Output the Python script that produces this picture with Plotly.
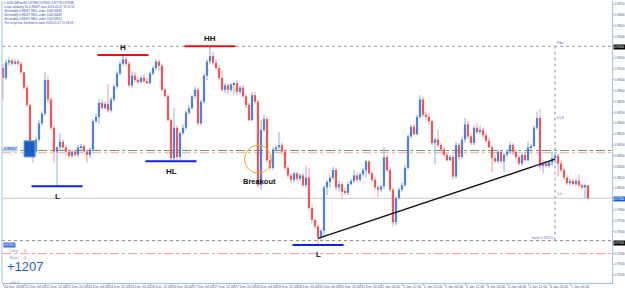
import plotly.graph_objects as go

PIP = 0.0001

# USDCHF.m H1 candles, prices in pips (x 0.0001)
OPEN = [9911, 9902, 9916, 9918, 9915, 9917, 9915, 9907, 9893, 9877,
        9840, 9834, 9845, 9860, 9869, 9900, 9882, 9856, 9834, 9838,
        9843, 9838, 9834, 9830, 9834, 9831, 9838, 9839, 9834, 9831,
        9836, 9862, 9866, 9879, 9874, 9878, 9872, 9882, 9894, 9906,
        9915, 9919, 9915, 9895, 9904, 9900, 9898, 9902, 9899, 9897,
        9906, 9911, 9917, 9913, 9891, 9885, 9863, 9828, 9856, 9829,
        9851, 9856, 9870, 9874, 9885, 9891, 9860, 9880, 9904, 9917,
        9922, 9916, 9911, 9902, 9891, 9895, 9891, 9896, 9897, 9889,
        9893, 9885, 9877, 9863, 9886, 9880, 9803, 9854, 9864, 9826,
        9819, 9836, 9838, 9840, 9834, 9819, 9812, 9808, 9814, 9809,
        9812, 9803, 9810, 9782, 9771, 9765, 9755, 9761, 9801, 9806,
        9810, 9817, 9801, 9804, 9797, 9796, 9804, 9807, 9812, 9808,
        9813, 9817, 9825, 9814, 9808, 9801, 9799, 9802, 9829, 9817,
        9799, 9769, 9791, 9799, 9803, 9819, 9848, 9857, 9850, 9866,
        9882, 9868, 9866, 9862, 9842, 9845, 9840, 9836, 9831, 9826,
        9829, 9811, 9840, 9829, 9845, 9859, 9848, 9842, 9856, 9852,
        9854, 9849, 9844, 9838, 9828, 9825, 9834, 9825, 9831, 9834,
        9840, 9834, 9829, 9823, 9831, 9826, 9838, 9839, 9856, 9865,
        9821, 9823, 9821, 9824, 9828, 9830, 9823, 9817, 9810, 9805,
        9807, 9804, 9807, 9803, 9801, 9803]
HIGH = [9915, 9919, 9921, 9920, 9919, 9919, 9917, 9908, 9895, 9878,
        9844, 9848, 9863, 9871, 9907, 9904, 9884, 9858, 9839, 9851,
        9845, 9840, 9836, 9836, 9836, 9840, 9841, 9840, 9836, 9838,
        9864, 9869, 9882, 9882, 9880, 9896, 9884, 9896, 9908, 9917,
        9923, 9921, 9917, 9908, 9907, 9903, 9904, 9905, 9902, 9908,
        9913, 9919, 9919, 9915, 9893, 9887, 9865, 9874, 9858, 9853,
        9859, 9872, 9877, 9886, 9894, 9893, 9882, 9906, 9919, 9931,
        9926, 9919, 9914, 9909, 9897, 9897, 9897, 9898, 9900, 9895,
        9895, 9887, 9879, 9889, 9889, 9882, 9863, 9868, 9866, 9831,
        9838, 9840, 9852, 9842, 9836, 9821, 9814, 9815, 9815, 9814,
        9814, 9821, 9819, 9785, 9773, 9767, 9763, 9803, 9808, 9812,
        9820, 9819, 9807, 9806, 9801, 9806, 9809, 9817, 9815, 9815,
        9819, 9826, 9826, 9816, 9811, 9803, 9803, 9838, 9831, 9820,
        9801, 9793, 9801, 9806, 9822, 9850, 9859, 9859, 9868, 9886,
        9884, 9871, 9870, 9863, 9847, 9854, 9842, 9838, 9833, 9831,
        9831, 9843, 9842, 9848, 9865, 9862, 9851, 9858, 9860, 9858,
        9856, 9852, 9847, 9840, 9831, 9836, 9836, 9833, 9836, 9843,
        9842, 9836, 9831, 9833, 9834, 9843, 9841, 9858, 9871, 9873,
        9826, 9825, 9826, 9834, 9832, 9832, 9826, 9819, 9812, 9809,
        9809, 9809, 9813, 9804, 9804, 9803]
LOW = [9882, 9900, 9913, 9913, 9914, 9913, 9905, 9891, 9875, 9838,
       9824, 9831, 9843, 9858, 9867, 9879, 9854, 9824, 9802, 9835,
       9836, 9830, 9828, 9828, 9829, 9829, 9834, 9832, 9824, 9828,
       9834, 9860, 9860, 9873, 9873, 9870, 9870, 9880, 9892, 9904,
       9913, 9913, 9893, 9893, 9898, 9896, 9897, 9897, 9896, 9896,
       9904, 9909, 9909, 9889, 9884, 9862, 9825, 9826, 9826, 9826,
       9849, 9854, 9868, 9873, 9883, 9858, 9858, 9878, 9900, 9915,
       9914, 9909, 9900, 9889, 9888, 9887, 9889, 9887, 9886, 9887,
       9884, 9874, 9862, 9862, 9878, 9801, 9799, 9852, 9824, 9817,
       9817, 9834, 9836, 9831, 9817, 9810, 9805, 9806, 9807, 9807,
       9801, 9801, 9779, 9768, 9763, 9748, 9752, 9755, 9794, 9801,
       9808, 9799, 9797, 9790, 9794, 9794, 9803, 9805, 9806, 9806,
       9811, 9810, 9813, 9806, 9799, 9792, 9797, 9799, 9815, 9797,
       9765, 9766, 9790, 9797, 9802, 9817, 9846, 9849, 9849, 9864,
       9866, 9863, 9859, 9840, 9822, 9838, 9834, 9829, 9825, 9825,
       9808, 9809, 9826, 9827, 9842, 9846, 9840, 9840, 9850, 9850,
       9847, 9842, 9837, 9815, 9823, 9823, 9823, 9815, 9829, 9832,
       9831, 9827, 9821, 9821, 9825, 9825, 9834, 9838, 9854, 9817,
       9814, 9819, 9819, 9822, 9823, 9811, 9815, 9808, 9803, 9803,
       9803, 9802, 9801, 9799, 9791, 9790]
CLOSE = [9902, 9916, 9918, 9915, 9917, 9915, 9907, 9893, 9877, 9840,
         9834, 9845, 9860, 9869, 9900, 9882, 9856, 9834, 9838, 9843,
         9838, 9834, 9830, 9834, 9831, 9838, 9839, 9834, 9831, 9836,
         9862, 9866, 9879, 9874, 9878, 9872, 9882, 9894, 9906, 9915,
         9919, 9915, 9895, 9904, 9900, 9898, 9902, 9899, 9897, 9906,
         9911, 9917, 9913, 9891, 9885, 9863, 9828, 9856, 9829, 9851,
         9856, 9870, 9874, 9885, 9891, 9860, 9880, 9904, 9917, 9922,
         9916, 9911, 9902, 9891, 9895, 9891, 9896, 9897, 9889, 9893,
         9885, 9877, 9863, 9886, 9880, 9803, 9854, 9864, 9826, 9819,
         9836, 9838, 9840, 9834, 9819, 9812, 9808, 9814, 9809, 9812,
         9803, 9810, 9782, 9771, 9765, 9755, 9761, 9801, 9806, 9810,
         9817, 9801, 9804, 9797, 9796, 9804, 9807, 9812, 9808, 9813,
         9817, 9825, 9814, 9808, 9801, 9799, 9802, 9829, 9817, 9799,
         9769, 9791, 9799, 9803, 9819, 9848, 9857, 9850, 9866, 9882,
         9868, 9866, 9862, 9842, 9845, 9840, 9836, 9831, 9826, 9829,
         9811, 9840, 9829, 9845, 9859, 9848, 9842, 9856, 9852, 9854,
         9849, 9844, 9838, 9828, 9825, 9834, 9825, 9831, 9834, 9840,
         9834, 9829, 9823, 9831, 9826, 9838, 9839, 9856, 9865, 9821,
         9823, 9821, 9824, 9828, 9830, 9823, 9817, 9810, 9805, 9807,
         9804, 9807, 9803, 9801, 9803, 9791]

TIME_LABELS = ["20 Dec 2018", "21 Dec 04:00", "21 Dec 12:00", "21 Dec 20:00",
               "24 Dec 04:00", "24 Dec 12:00", "24 Dec 20:00", "26 Dec 12:00",
               "26 Dec 20:00", "27 Dec 04:00", "27 Dec 12:00", "27 Dec 20:00",
               "28 Dec 04:00", "28 Dec 12:00", "28 Dec 20:00", "31 Dec 04:00",
               "31 Dec 12:00", "31 Dec 20:00", "2 Jan 04:00", "2 Jan 12:00",
               "2 Jan 20:00", "3 Jan 04:00", "3 Jan 12:00", "3 Jan 20:00",
               "4 Jan 04:00", "4 Jan 12:00", "4 Jan 20:00", "7 Jan 04:00"]
BARS_PER_LABEL = 7

PRICE_TICKS = [0.9710 + 0.0010 * k for k in range(27)]

PIVOT_NAMES = ["L", "H", "HL", "HH", "L"]
PIVOT_BARS = [18, 40, 56, 69, 105]
PIVOT_SIDES = ["low", "high", "low", "high", "low"]

TREND_BARS = [105, 184]
TREND_PRICES = [0.9754, 0.9827]

BREAKOUT_BAR = 85
BREAKOUT_PRICE = 0.9827

LEVEL_PRICES = [0.9931, 0.9835, 0.9833, 0.9791, 0.9752, 0.9740]

FIBO_BAR = 184
FIBO_TEXTS = ["Fibo", "61.8", "top sl 100.0", "0.0", "base 0.97520"]
FIBO_PRICES = [0.9931, 0.9862, 0.9819, 0.9792, 0.9752]

PRICE_TAGS = [0.9930, 0.9790, 0.9750]
BOX_BARS = [7, 10.7]
BOX_PRICES = [0.9829, 0.9844]

INFO_LINES = ["\u25be USDCHF.m,H1 0.97893 0.97945 0.97776 0.97838",
              "script solidarity SL 0.98037 start 2019.01.07 11:11:53",
              "Set modify 0.98037 SELL order 100216948",
              "Set modify 0.98037 SELL order 100216949",
              "Set modify 0.98037 SELL order 100216950",
              "The script has finished its work 2019.01.07 11:19:09"]

PANEL_NAMES = ["Long", "Short"]
PANEL_COUNTS = [0, 0]
PANEL_PROFIT = "+1207"
PANEL_PIPS = "+56.0"

# ---------------------------------------------------------------
o = [v * PIP for v in OPEN]
h = [v * PIP for v in HIGH]
l = [v * PIP for v in LOW]
c = [v * PIP for v in CLOSE]
x = list(range(len(o)))
up = [cc >= oo for oo, cc in zip(o, c)]

UP_BODY, DN_BODY = "#1554c8", "#e3141b"
UP_WICK, DN_WICK = "#88aee6", "#f29a9a"

W, H = 625, 294
PL, PR, PT, PB = 2, 612, 1, 283
FONT = "Liberation Sans"


def px_x(px):
    return (px - PL) / (PR - PL)


def px_y(py):
    return (PB - py) / (PB - PT)


fig = go.Figure()

for flag, col in ((True, UP_WICK), (False, DN_WICK)):
    wx, wy = [], []
    for i in x:
        if up[i] == flag:
            wx += [i, i, None]
            wy += [l[i], h[i], None]
    fig.add_trace(go.Scatter(x=wx, y=wy, mode="lines",
                             line=dict(color=col, width=1),
                             hoverinfo="skip", showlegend=False))

fig.add_trace(go.Bar(
    x=x,
    base=[min(a, b) for a, b in zip(o, c)],
    y=[max(abs(b - a), 0.4 * PIP) for a, b in zip(o, c)],
    width=0.72,
    marker=dict(color=[UP_BODY if u else DN_BODY for u in up], line=dict(width=0)),
    hoverinfo="skip", showlegend=False))

fig.add_trace(go.Scatter(x=TREND_BARS, y=TREND_PRICES, mode="lines",
                         line=dict(color="#111111", width=1.4),
                         hoverinfo="skip", showlegend=False))

shapes = []
level_styles = [dict(color="#9a9a9a", width=1, dash="dot"),
                dict(color="#6f9a63", width=1, dash="dashdot"),
                dict(color="#f2a9a9", width=1, dash="dashdot"),
                dict(color="#c8c8c8", width=1, dash="solid"),
                dict(color="#8a8a8a", width=1, dash="dot"),
                dict(color="#f39a9a", width=1, dash="dashdot")]
for p, st in zip(LEVEL_PRICES, level_styles):
    shapes.append(dict(type="line", xref="paper", x0=0, x1=1, yref="y", y0=p, y1=p,
                       line=st, layer="below"))

shapes.append(dict(type="line", xref="x", x0=FIBO_BAR, x1=FIBO_BAR, yref="y",
                   y0=min(FIBO_PRICES), y1=max(FIBO_PRICES),
                   line=dict(color="#8c8c8c", width=1, dash="dot"), layer="below"))

shapes.append(dict(type="line", xref="paper", x0=0, x1=0, yref="paper", y0=0, y1=1,
                   line=dict(color="#9fc0ea", width=1)))

shapes.append(dict(type="rect", xref="x", yref="y", x0=BOX_BARS[0], x1=BOX_BARS[1],
                   y0=BOX_PRICES[0], y1=BOX_PRICES[1],
                   fillcolor="#1b5fc4", line=dict(color="#7aa6e6", width=1)))

annotations = []
for name, b, side in zip(PIVOT_NAMES, PIVOT_BARS, PIVOT_SIDES):
    p = h[b] if side == "high" else l[b]
    col = "#e41414" if side == "high" else "#1020e6"
    shapes.append(dict(type="line", xref="x", yref="y", x0=b - 8.5, x1=b + 8.5,
                       y0=p, y1=p, line=dict(color=col, width=2)))
    annotations.append(dict(x=b, y=p, xref="x", yref="y", text="<b>%s</b>" % name,
                            showarrow=False, yshift=(8 if side == "high" else -10),
                            font=dict(size=8, color="#111111", family=FONT)))

shapes.append(dict(type="circle", xref="x", yref="y",
                   xsizemode="pixel", ysizemode="pixel",
                   xanchor=BREAKOUT_BAR, yanchor=BREAKOUT_PRICE,
                   x0=-13.5, x1=13.5, y0=-14, y1=14,
                   line=dict(color="#f5a623", width=1)))
annotations.append(dict(x=BREAKOUT_BAR, y=BREAKOUT_PRICE, xref="x", yref="y",
                        text="<b>Breakout</b>", showarrow=False, yshift=-22, xshift=1,
                        font=dict(size=7.5, color="#111111", family=FONT)))

fibo_side = ["left", "left", "right", "left", "right"]
for t, p, s in zip(FIBO_TEXTS, FIBO_PRICES, fibo_side):
    annotations.append(dict(x=FIBO_BAR, y=p, xref="x", yref="y", text=t, showarrow=False,
                            xanchor=("left" if s == "left" else "right"),
                            xshift=(1 if s == "left" else -1), yshift=3,
                            font=dict(size=3.5, color="#6a6ad8", family=FONT)))

for p in PRICE_TAGS:
    bg = "#1e5fcf" if abs(p - LEVEL_PRICES[3]) < 0.0003 else "#000000"
    annotations.append(dict(x=1, xref="paper", y=p, yref="y", text="%.5f" % p,
                            showarrow=False, xanchor="left", xshift=1, bgcolor=bg,
                            font=dict(size=2.8, color="#ffffff", family=FONT)))

annotations.append(dict(x=px_x(3), xref="paper", y=sum(BOX_PRICES) / 2, yref="y",
                        text="0.98367", showarrow=False, xanchor="left", bgcolor="#bcd3f3",
                        font=dict(size=3.5, color="#1d4fb0", family=FONT)))
annotations.append(dict(x=px_x(3), xref="paper", y=px_y(247.5), yref="paper",
                        text="0.97452", showarrow=False, xanchor="left", bgcolor="#3a6fd4",
                        font=dict(size=3, color="#ffffff", family=FONT)))

info_y = [3.3, 7.3, 11.2, 15.4, 19.4, 23.4]
for t, yy in zip(INFO_LINES, info_y):
    annotations.append(dict(x=px_x(3), y=px_y(yy), xref="paper", yref="paper", text=t,
                            showarrow=False, xanchor="left", yanchor="middle",
                            font=dict(size=3, color="#2b4fa8", family=FONT)))

# trade panel (bottom-left)
for name, cnt, yy in zip(PANEL_NAMES, PANEL_COUNTS, [254, 261]):
    annotations.append(dict(x=px_x(8), y=px_y(yy), xref="paper", yref="paper",
                            text=name, showarrow=False, xanchor="left",
                            font=dict(size=4, color="#8096c0", family=FONT)))
    annotations.append(dict(x=px_x(23), y=px_y(yy), xref="paper", yref="paper",
                            text=str(cnt), showarrow=False, xanchor="left",
                            font=dict(size=4, color="#e86060", family=FONT)))
annotations.append(dict(x=px_x(6), y=px_y(274.5), xref="paper", yref="paper",
                        text=PANEL_PROFIT, showarrow=False, xanchor="left",
                        font=dict(size=13, color="#1f5fc4", family=FONT)))
annotations.append(dict(x=px_x(8), y=px_y(286), xref="paper", yref="paper",
                        text=PANEL_PIPS, showarrow=False, xanchor="left",
                        font=dict(size=4, color="#5d7fc4", family=FONT)))

for a in annotations:
    a["borderpad"] = 0

tickvals = [k * BARS_PER_LABEL for k in range(len(TIME_LABELS))]
ytickvals = [t for t in PRICE_TICKS if all(abs(t - p) > 0.0004 for p in PRICE_TAGS)]

fig.update_layout(
    width=W, height=H,
    margin=dict(l=PL, r=W - PR, t=PT, b=H - PB, pad=0, autoexpand=False),
    paper_bgcolor="#ffffff", plot_bgcolor="#ffffff",
    showlegend=False, barmode="overlay", hovermode=False,
    shapes=shapes, annotations=annotations,
    font=dict(family=FONT),
    xaxis=dict(range=[-1 / 3, (PR - 3) / 3], showgrid=False, zeroline=False,
               tickmode="array", tickvals=tickvals, ticktext=TIME_LABELS,
               tickangle=0, automargin=False,
               ticks="outside", ticklen=2, tickcolor="#9fc0ea",
               ticklabelposition="outside right",
               tickfont=dict(size=3.5, color="#4a5a80"),
               showline=True, linecolor="#9fc0ea", linewidth=1, fixedrange=True),
    yaxis=dict(range=[0.97129, 0.99728], side="right", showgrid=False, zeroline=False,
               tickmode="array", tickvals=ytickvals,
               ticktext=["%.5f" % t for t in ytickvals], automargin=False,
               ticks="outside", ticklen=1, tickcolor="#9fc0ea",
               tickfont=dict(size=2.8, color="#4a5a80"),
               showline=True, mirror=False, linecolor="#9fc0ea", linewidth=1,
               fixedrange=True),
)

fig.write_html("out.html", config={"displayModeBar": False})
